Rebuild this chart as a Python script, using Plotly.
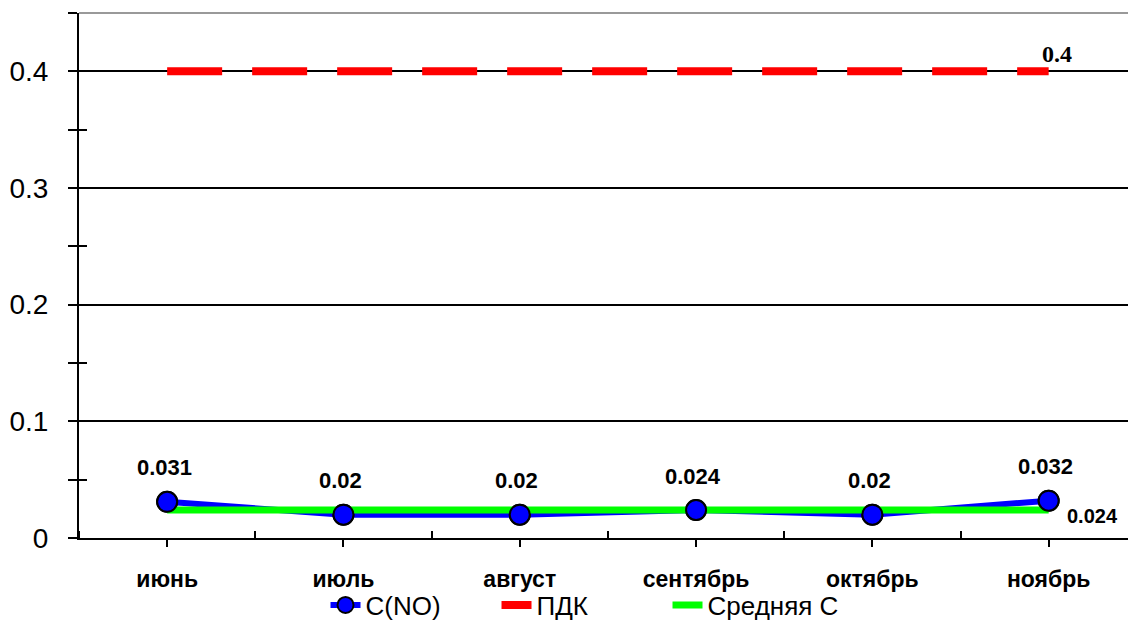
import plotly.graph_objects as go

months = ["июнь", "июль", "август", "сентябрь", "октябрь", "ноябрь"]
c_no = [0.031, 0.02, 0.02, 0.024, 0.02, 0.032]
pdk = [0.4, 0.4, 0.4, 0.4, 0.4, 0.4]
avg_c = [0.024, 0.024, 0.024, 0.024, 0.024, 0.024]
c_no_labels = ["0.031", "0.02", "0.02", "0.024", "0.02", "0.032"]
pdk_label = "0.4"
avg_label = "0.024"

xs = list(range(len(months)))
FONT = "Arial, Liberation Sans, sans-serif"

fig = go.Figure()
# C(NO) line (under the mean line)
fig.add_trace(go.Scatter(x=xs, y=c_no, mode="lines+markers", name="C(NO)",
                         line=dict(color="#0000FF", width=6),
                         marker=dict(size=20, color="#0000FF", line=dict(color="black", width=2))))
# ПДК dashed red line
fig.add_trace(go.Scatter(x=xs, y=pdk, mode="lines", name="ПДК",
                         line=dict(color="#FF0000", width=8, dash="55px,30px"),
                         hoverinfo="skip"))
# mean line on overlay axis (drawn above)
fig.add_trace(go.Scatter(x=xs, y=avg_c, mode="lines", name="Средняя С", yaxis="y2",
                         line=dict(color="#00FF00", width=7)))
# markers on top
fig.add_trace(go.Scatter(x=xs, y=c_no, mode="markers", yaxis="y2", showlegend=False,
                         marker=dict(size=20, color="#0000FF", line=dict(color="black", width=2))))

annotations = []
for x, y, t in zip(xs, c_no, c_no_labels):
    annotations.append(dict(x=x, y=y, xref="x", yref="y", text=t, showarrow=False,
                            yshift=34, xshift=-3,
                            font=dict(family=FONT, size=22, color="black", weight="bold")))
annotations.append(dict(x=xs[-1], y=pdk[-1], xref="x", yref="y", text=pdk_label, showarrow=False,
                        xshift=8, yshift=17,
                        font=dict(family="Times New Roman, Liberation Serif, serif", size=24,
                                  color="black", weight="bold")))
annotations.append(dict(x=xs[-1], y=avg_c[-1], xref="x", yref="y", text=avg_label, showarrow=False,
                        xanchor="left", xshift=16, yshift=-6,
                        font=dict(family=FONT, size=20, color="black", weight="bold")))

fig.update_layout(
    width=1128, height=622,
    margin=dict(l=79, r=0, t=13, b=84, autoexpand=False),
    paper_bgcolor="white", plot_bgcolor="white",
    font=dict(family=FONT, color="black"),
    showlegend=True,
    legend=dict(orientation="h", x=0.235, xanchor="left", y=-0.083, yanchor="top",
                entrywidth=126, entrywidthmode="pixels",
                font=dict(family=FONT, size=26, color="black"), bgcolor="rgba(0,0,0,0)",
                traceorder="normal"),
    xaxis=dict(range=[-0.5, 5.45], tickmode="array", tickvals=xs, ticktext=months,
               showgrid=False, zeroline=False, showline=True, linecolor="black", linewidth=2,
               ticks="outside", ticklen=7, tickwidth=2, tickcolor="black",
               tickfont=dict(family=FONT, size=23, color="black", weight="bold"),
               ticklabelstandoff=12,
               minor=dict(tickmode="linear", tick0=0.5, dtick=1, ticks="inside",
                          ticklen=7, tickwidth=2, tickcolor="black", showgrid=False)),
    yaxis=dict(range=[0, 0.45], tick0=0, dtick=0.1, showgrid=True, gridcolor="black", gridwidth=2,
               zeroline=False, showline=True, linecolor="black", linewidth=2,
               ticks="outside", ticklen=9, tickwidth=2, tickcolor="black",
               tickfont=dict(family=FONT, size=28, color="black"), ticklabelstandoff=14,
               minor=dict(dtick=0.05, tick0=0, ticks="outside", ticklen=9, tickwidth=2,
                          tickcolor="black", showgrid=False)),
    yaxis2=dict(range=[0, 0.45], overlaying="y", side="left", tick0=0, dtick=0.05,
                showgrid=False, zeroline=False, showline=False, showticklabels=False,
                ticks="inside", ticklen=8, tickwidth=2, tickcolor="black"),
    annotations=annotations,
    shapes=[dict(type="line", xref="paper", yref="paper", x0=0, x1=1, y0=1, y1=1,
                 line=dict(color="#999999", width=2))],
)

fig.write_html("out.html")
